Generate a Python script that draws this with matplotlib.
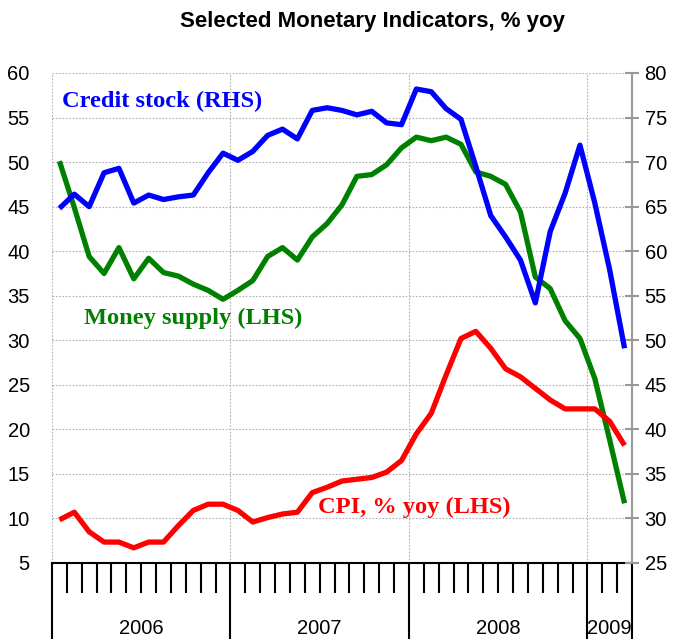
import numpy as np
import matplotlib
matplotlib.use("Agg")
import matplotlib.pyplot as plt
from matplotlib.transforms import blended_transform_factory

plt.rcParams["font.family"] = ["Liberation Sans", "DejaVu Sans"]

# monthly, Jan 2006 .. Mar 2009
years = ["2006", "2007", "2008", "2009"]
months_per_year = [12, 12, 12, 3]

credit = [64.8, 66.4, 65.0, 68.8, 69.3, 65.4, 66.3, 65.8, 66.1, 66.3,
          68.8, 71.0, 70.2, 71.2, 73.0, 73.7, 72.6, 75.8, 76.1, 75.8,
          75.3, 75.7, 74.4, 74.2, 78.2, 77.9, 76.0, 74.8, 69.5, 64.0,
          61.6, 59.0, 54.2, 62.2, 66.5, 71.9, 65.4, 57.9, 49.1]
money = [50.1, 44.9, 39.4, 37.5, 40.4, 36.9, 39.2, 37.6, 37.2, 36.3,
         35.6, 34.6, 35.6, 36.7, 39.4, 40.4, 39.0, 41.6, 43.1, 45.2,
         48.4, 48.6, 49.7, 51.6, 52.8, 52.4, 52.8, 52.0, 48.9, 48.4,
         47.5, 44.4, 37.1, 35.8, 32.2, 30.2, 25.7, 18.8, 11.7]
cpi = [9.85, 10.7, 8.5, 7.35, 7.35, 6.7, 7.35, 7.35, 9.2, 10.9,
       11.6, 11.6, 10.9, 9.6, 10.1, 10.5, 10.7, 12.9, 13.5, 14.2,
       14.4, 14.6, 15.2, 16.5, 19.5, 21.8, 26.1, 30.2, 31.0, 29.1,
       26.8, 25.9, 24.6, 23.3, 22.3, 22.3, 22.3, 20.9, 18.2]

n = len(credit)
x = np.arange(n) + 0.5

fig = plt.figure(figsize=(6.76, 6.39), dpi=100)
ax = fig.add_axes([52/676, 1-563/639, 580/676, 490/639])
ax2 = ax.twinx()

ax.set_xlim(0, n)
ax.set_ylim(5, 60)
ax2.set_ylim(25, 80)
ax.set_yticks(np.arange(5, 61, 5))
ax2.set_yticks(np.arange(25, 81, 5))

bounds = np.cumsum([0] + months_per_year)
for b in bounds[:-1]:
    ax.axvline(b, color="#b0b0b0", lw=0.8, ls=(0, (1.5, 1.5)), zorder=0)
for v in np.arange(5, 61, 5):
    ax.axhline(v, color="#b0b0b0", lw=0.8, ls=(0, (1.5, 1.5)), zorder=0)

ax.plot(x, money, color="#008000", lw=3.8, solid_capstyle="butt", zorder=3)
ax.plot(x, cpi, color="#ff0000", lw=3.8, solid_capstyle="butt", zorder=3)
ax2.plot(x, credit, color="#0000ff", lw=3.8, solid_capstyle="butt", zorder=3)

for a in (ax, ax2):
    a.spines["top"].set_visible(False)
    a.spines["left"].set_visible(False)
    a.spines["right"].set_visible(False)
ax2.spines["bottom"].set_visible(False)
ax2.spines["right"].set_visible(True)
ax2.spines["right"].set_color("#999999")
ax2.spines["right"].set_linewidth(1.5)
ax.spines["bottom"].set_linewidth(1.5)

ax.tick_params(axis="y", length=0, pad=16, labelsize=14.5)
ax2.tick_params(axis="y", direction="inout", length=10, width=1.5,
                color="#999999", labelsize=14.5, pad=4)

# month ticks and longer year separators
ax.set_xticks(bounds, minor=False)
ax.set_xticks(np.arange(0, n + 1), minor=True)
ax.tick_params(axis="x", which="major", direction="out", length=55, width=1.5,
               labelbottom=False)
ax.tick_params(axis="x", which="minor", direction="out", length=21.5, width=1.5)

tr = blended_transform_factory(ax.transData, ax.transAxes)
for i, yr in enumerate(years):
    ax.text((bounds[i] + bounds[i+1]) / 2, -0.133, yr, transform=tr,
            ha="center", va="center", fontsize=14.5)

serif = dict(family="Liberation Serif", fontweight="bold", fontsize=17.6, va="center")
ax.text(0.67, 56.85, "Credit stock (RHS)", color="#0000ff", **serif)
ax.text(2.15, 32.5, "Money supply (LHS)", color="#008000", **serif)
ax.text(17.9, 11.2, "CPI, % yoy (LHS)", color="#ff0000", **serif)

fig.text(373/676, 1-22/639, "Selected Monetary Indicators, % yoy", ha="center",
         va="center", fontsize=16, fontweight="bold")

fig.savefig("out.png", dpi=100)
